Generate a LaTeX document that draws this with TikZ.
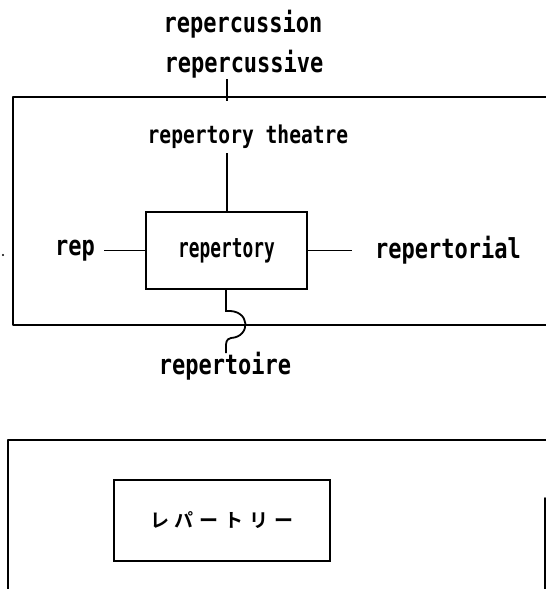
\documentclass[tikz,border=0pt]{standalone}
\usepackage{fontspec}
% narrowed bold mono: glyphs come out taller than they are wide
\newfontfamily\tallmono[FakeStretch=0.8]{DejaVu Sans Mono Bold}
\newfontfamily\tightmono[FakeStretch=0.66]{DejaVu Sans Mono Bold}
\newfontfamily\jpfont{Noto Sans CJK JP Bold}
\tikzset{
  x=1pt, y=-1pt,
  frame/.style={line width=2pt, line cap=round, line join=round},
  wire/.style={line width=1.8pt},
  word/.style={inner sep=3pt, font=\tallmono\fontsize{#1}{#1}\selectfont},
  word/.default=27.5,
  wordbox/.style={draw, line width=1.9pt, inner sep=0pt}
}
\begin{document}
\begin{tikzpicture}
  \useasboundingbox (0,0) rectangle (546,589);

  % upper frame, open on the right
  \draw[frame] (546,97) -- (13,97) -- (13,325) -- (546,325);

  % lower frame, cut off at the right and bottom
  \draw[frame] (8,589) -- (8,440) -- (546,440);
  \draw[frame] (545,498) -- (545,589);

  % stray dot on the left
  \fill (3,255) circle (1.1);

  % words above the upper frame
  \node[word] (cussion) at (243,24) {repercussion};
  \node[word] (cussive) at (244,64) {repercussive};
  \coordinate (tickTop) at (227,79);
  \coordinate (tickBot) at (227,101);
  \draw[wire] (tickTop) -- (tickBot);

  % central box and its neighbours
  \node[wordbox, minimum width=161, minimum height=77,
        font=\tightmono\fontsize{27}{27}\selectfont] (core) at (226.5,250.5) {repertory};
  \node[word=24.5] (theatre) at (248,137) {repertory theatre};
  \node[word] (rep) at (75,250.5) {rep};
  \node[word] (torial) at (448,250.5) {repertorial};
  \node[word] (toire) at (225,366) {repertoire};

  \coordinate (theatreFoot) at (227,153);
  \draw[wire] (theatreFoot) -- (theatreFoot |- core.north);
  \draw[wire] ([xshift=6pt]rep.east) -- (core.west);
  \draw[wire] (core.east) -- ([xshift=-20pt]torial.west);

  % lead to "repertoire", hopping over the frame line
  \coordinate (hopIn) at (226,311);
  \coordinate (hopOut) at (226,353);
  \draw[wire] (core.south -| hopIn) -- (hopIn)
    .. controls (251,309) and (251,337) .. (231,338)
    .. controls (226,339) and (226,343) .. (226,347)
    -- (hopOut);

  % katakana box
  \node[wordbox, minimum width=216, minimum height=81,
        font=\jpfont\fontsize{19}{19}\selectfont] (kana) at (222,520.5)
    {レ\hspace{6pt}パ\hspace{6pt}ー\hspace{6pt}ト\hspace{6pt}リ\hspace{6pt}ー};
\end{tikzpicture}
\end{document}
